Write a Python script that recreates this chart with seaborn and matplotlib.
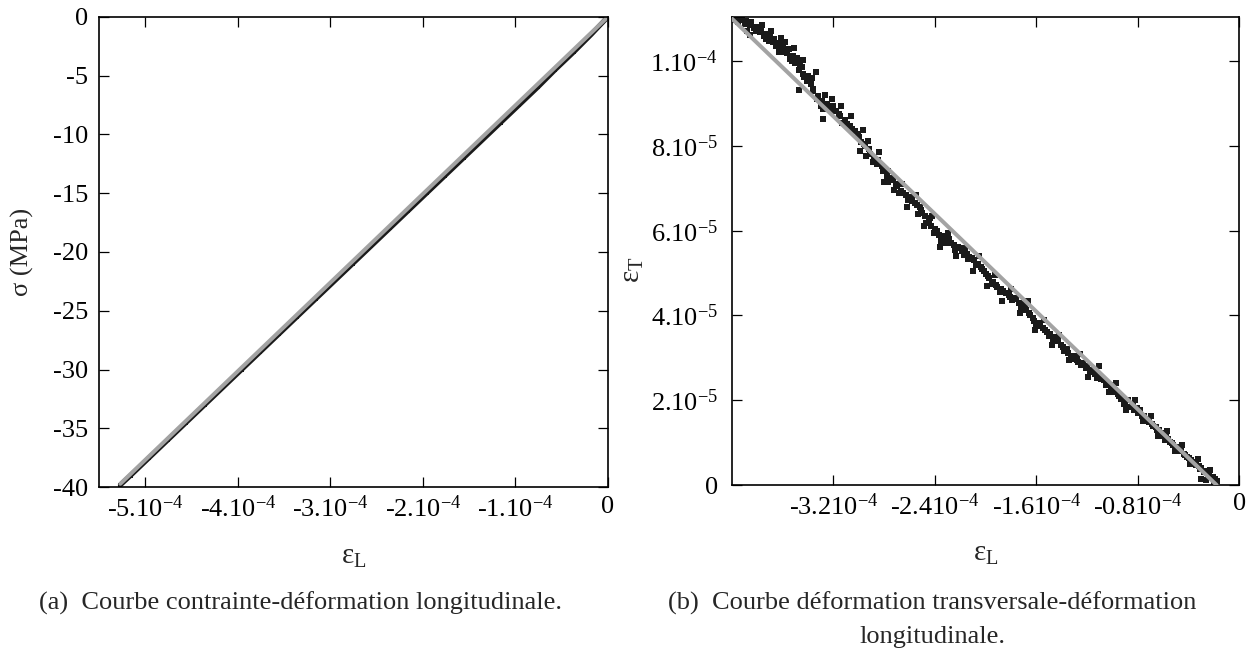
import numpy as np
import pandas as pd
import matplotlib
matplotlib.use("Agg")
import matplotlib.pyplot as plt
from matplotlib import font_manager as fm
import seaborn as sns

# ---------------- data ----------------
# (a) stress - longitudinal strain (eps in 1e-4, sigma in MPa)
sigma_a = [0.0, -1.5, -3.0, -4.5, -6.0, -7.5, -9.0, -10.5, -12.0, -13.5, -15.0,
           -16.5, -18.0, -19.5, -21.0, -22.5, -24.0, -25.5, -27.0, -28.5, -30.0,
           -31.5, -33.0, -34.5, -36.0, -37.5, -39.0, -39.8]
epsL_a = [0.0, -0.18, -0.37, -0.57, -0.76, -0.96, -1.16, -1.36, -1.56, -1.76, -1.96,
          -2.16, -2.36, -2.56, -2.76, -2.96, -3.16, -3.36, -3.56, -3.76, -3.96,
          -4.16, -4.36, -4.56, -4.76, -4.96, -5.16, -5.27]
fit_epsL_a = [-5.27, 0.0]
fit_sigma_a = [-39.7, 0.0]

# (b) transverse strain (1e-5) vs longitudinal strain (1e-4)
epsL_b = [-3.97, -3.95, -3.92, -3.90, -3.86, -3.83, -3.80, -3.78, -3.75, -3.73,
          -3.70, -3.68, -3.65, -3.62, -3.60, -3.57, -3.54, -3.52, -3.50, -3.47,
          -3.45, -3.43, -3.41, -3.47, -3.38, -3.33, -3.30, -3.28, -3.25, -3.22,
          -3.18, -3.28, -3.15, -3.11, -3.09, -3.05, -3.01, -2.98, -2.96, -2.93,
          -2.99, -2.91, -2.88, -2.86, -2.82, -2.79, -2.77, -2.77, -2.73, -2.70,
          -2.67, -2.63, -2.60, -2.58, -2.54, -2.51, -2.48, -2.45, -2.43, -2.40,
          -2.38, -2.35, -2.33, -2.29, -2.25, -2.22, -2.19, -2.15, -2.13, -2.09,
          -2.06, -2.03, -2.00, -1.97, -1.94, -1.91, -1.88, -1.84, -1.81, -1.77,
          -1.74, -1.71, -1.68, -1.65, -1.62, -1.59, -1.55, -1.52, -1.49, -1.46,
          -1.43, -1.39, -1.36, -1.33, -1.30, -1.27, -1.23, -1.20, -1.17, -1.14,
          -1.10, -1.07, -1.04, -1.01, -0.98, -0.95, -0.91, -0.88, -0.84, -0.81,
          -0.78, -0.75, -0.72, -0.69, -0.66, -0.63, -0.61, -0.59, -0.55, -0.52,
          -0.50, -0.47, -0.44, -0.41, -0.38, -0.35, -0.32, -0.30, -0.27, -0.24,
          -0.21, -0.19, -0.18, -0.30, -3.88, -3.63, -3.36, -2.52]
epsT_b = [11.00, 10.93, 10.96, 10.88, 10.85, 10.78, 10.80, 10.68, 10.60, 10.53,
          10.58, 10.45, 10.35, 10.30, 10.36, 10.20, 10.05, 10.12, 9.95, 9.78,
          9.85, 9.62, 9.53, 9.31, 9.45, 9.10, 8.95, 8.88, 8.98, 8.85,
          8.82, 8.63, 8.70, 8.60, 8.51, 8.40, 8.28, 8.10, 8.04, 8.12,
          7.88, 7.80, 7.70, 7.57, 7.52, 7.45, 7.41, 7.14, 7.25, 7.05,
          6.94, 6.85, 6.80, 6.71, 6.60, 6.48, 6.35, 6.24, 6.12, 6.05,
          6.00, 5.76, 5.88, 5.80, 5.66, 5.61, 5.52, 5.45, 5.37, 5.30,
          5.22, 5.10, 4.98, 4.88, 4.80, 4.67, 4.62, 4.52, 4.43, 4.38,
          4.30, 4.28, 4.12, 4.02, 3.88, 3.82, 3.70, 3.61, 3.56, 3.49,
          3.40, 3.25, 3.20, 3.02, 3.05, 2.90, 2.88, 2.80, 2.71, 2.62,
          2.55, 2.47, 2.40, 2.30, 2.24, 2.10, 1.92, 2.00, 1.88, 1.82,
          1.76, 1.62, 1.55, 1.45, 1.37, 1.30, 1.15, 1.06, 1.02, 0.95,
          0.90, 0.82, 0.74, 0.67, 0.60, 0.52, 0.45, 0.40, 0.33, 0.26,
          0.20, 0.14, 0.10, 0.15, 10.72, 10.22, 9.35, 6.55]
epsL_b2 = [-3.99, -3.93, -3.89, -3.85, -3.81, -3.77, -3.74, -3.71, -3.67, -3.63,
           -3.59, -3.55, -3.53, -3.49, -3.46, -3.44, -3.40, -3.36, -3.32, -3.29,
           -3.24, -3.20, -3.16, -3.13, -3.07, -3.03, -3.00, -2.95, -2.92, -2.89,
           -2.85, -2.81, -2.78, -2.75, -2.71, -2.68, -2.65, -2.61, -2.56, -2.53,
           -2.50, -2.47, -2.44, -2.41, -2.37, -2.34, -2.31, -2.27, -2.24, -2.20,
           -2.17, -2.14, -2.11, -2.08, -2.04, -2.01, -1.98, -1.95, -1.92, -1.89,
           -1.86, -1.82, -1.79, -1.76, -1.72, -1.69, -1.66, -1.63, -1.60, -1.57,
           -1.53, -1.50, -1.47, -1.44, -1.41, -1.38, -1.35, -1.31, -1.28, -1.25,
           -1.21, -1.18, -1.15, -1.12, -1.09, -1.05, -1.02, -0.99, -0.96, -0.93,
           -0.90, -0.86, -0.83, -0.80, -0.77, -0.74, -0.71, -0.68, -0.65, -0.62,
           -0.58, -0.56, -0.53, -0.49, -0.46, -0.43, -0.40, -0.37, -0.34, -0.31,
           -0.28, -0.25, -0.22, -0.20]
epsT_b2 = [10.98, 11.02, 10.95, 10.92, 10.72, 10.75, 10.65, 10.48, 10.52, 10.42,
           10.22, 10.28, 10.00, 10.08, 9.92, 9.70, 9.66, 9.30, 9.18, 9.05,
           8.90, 8.95, 8.76, 8.55, 8.46, 8.35, 8.20, 8.00, 7.92, 7.62,
           7.66, 7.40, 7.30, 7.20, 7.10, 6.88, 6.90, 6.72, 6.65, 6.40,
           6.42, 6.18, 6.30, 5.95, 5.90, 5.82, 5.72, 5.70, 5.55, 5.58,
           5.42, 5.32, 5.35, 5.18, 5.15, 5.05, 4.92, 4.75, 4.72, 4.55,
           4.58, 4.48, 4.36, 4.40, 4.18, 4.20, 4.05, 3.95, 3.78, 3.75,
           3.66, 3.52, 3.42, 3.45, 3.30, 3.15, 3.12, 2.98, 2.95, 2.82,
           2.76, 2.66, 2.70, 2.52, 2.50, 2.36, 2.35, 2.20, 2.15, 2.02,
           1.95, 1.84, 1.78, 1.70, 1.64, 1.55, 1.48, 1.40, 1.30, 1.22,
           1.14, 1.08, 0.98, 0.88, 0.80, 0.70, 0.64, 0.55, 0.48, 0.38,
           0.30, 0.22, 0.18, 0.08]
epsL_b3 = [-3.86, -3.76, -3.69, -3.61, -3.58, -3.51, -3.44, -3.37, -3.34, -3.27,
           -3.21, -3.14, -3.06, -2.97, -2.94, -2.84, -2.80, -2.72, -2.66, -2.62,
           -2.55, -2.49, -2.42, -2.36, -2.30, -2.23, -2.16, -2.10, -2.05, -1.99,
           -1.93, -1.87, -1.80, -1.73, -1.67, -1.61, -1.54, -1.48, -1.42, -1.34,
           -1.26, -1.19, -1.11, -1.03, -0.97, -0.89, -0.82, -0.76, -0.70, -0.64,
           -0.57, -0.51, -0.45, -0.39, -0.33, -0.26, -0.23]
epsT_b3 = [10.62, 10.85, 10.72, 10.55, 10.45, 10.30, 10.02, 9.60, 9.75, 9.20,
           9.10, 8.95, 8.70, 8.38, 7.75, 7.85, 7.15, 6.95, 7.10, 6.55,
           6.85, 6.10, 6.35, 5.62, 5.95, 5.40, 5.60, 5.05, 5.40, 4.70,
           4.95, 4.35, 4.62, 4.05, 4.35, 3.65, 3.90, 3.30, 3.55, 2.95,
           3.10, 2.55, 2.80, 2.20, 2.40, 1.78, 2.00, 1.50, 1.62, 1.15,
           1.28, 0.80, 0.95, 0.50, 0.62, 0.12, 0.35]
fit_epsL_b = [-4.0, -0.18]
fit_epsT_b = [11.0, 0.0]

xticks_a = [-5, -4, -3, -2, -1, 0]
xticklabels_a = ['-5.10$^{-4}$', '-4.10$^{-4}$', '-3.10$^{-4}$', '-2.10$^{-4}$', '-1.10$^{-4}$', '0']
yticks_a = [0, -5, -10, -15, -20, -25, -30, -35, -40]
yticklabels_a = ['0', '-5', '-10', '-15', '-20', '-25', '-30', '-35', '-40']

xticks_b = [-3.2, -2.4, -1.6, -0.8, 0]
xticklabels_b = ['-3.210$^{-4}$', '-2.410$^{-4}$', '-1.610$^{-4}$', '-0.810$^{-4}$', '0']
yticks_b = [0, 2, 4, 6, 8, 10]
yticklabels_b = ['0', '2.10$^{-5}$', '4.10$^{-5}$', '6.10$^{-5}$', '8.10$^{-5}$', '1.10$^{-4}$']

caption_a = "(a)  Courbe contrainte-déformation longitudinale."
caption_b1 = "(b)  Courbe déformation transversale-déformation"
caption_b2 = "longitudinale."

# ---------------- fonts ----------------
serif_name = None
for f in fm.findSystemFonts():
    base = f.replace(' ', '').lower()
    if 'liberationserif' in base:
        try:
            fm.fontManager.addfont(f)
            if base.endswith('liberationserif-regular.ttf'):
                serif_name = fm.FontProperties(fname=f).get_name()
        except Exception:
            pass
if serif_name is None:
    serif_name = 'Liberation Serif'

# ---------------- style ----------------
sns.set_theme(style="ticks")
plt.rcParams['font.family'] = [serif_name, 'DejaVu Serif']
plt.rcParams['mathtext.fontset'] = 'custom'
plt.rcParams['mathtext.rm'] = serif_name
plt.rcParams['mathtext.it'] = serif_name + ':italic'
plt.rcParams['mathtext.default'] = 'regular'
plt.rcParams['axes.unicode_minus'] = False

FS = 19
GRAY = '#a3a3a3'
BLACK = '#1a1a1a'

fig = plt.figure(figsize=(12.57, 6.52), dpi=100)
axA = fig.add_axes([0.0788, 0.2526, 0.4049, 0.7218])
axB = fig.add_axes([0.5823, 0.2561, 0.4037, 0.7178])

E4 = 1e-4
E5 = 1e-5

dfa = pd.DataFrame({'eps': np.array(epsL_a) * E4, 'sig': sigma_a})
fita = pd.DataFrame({'eps': np.array(fit_epsL_a) * E4, 'sig': fit_sigma_a})
sns.lineplot(data=dfa, x='eps', y='sig', ax=axA, color=BLACK, lw=3.6, sort=False,
             estimator=None, marker='s', markersize=3.5, markeredgewidth=0)
sns.lineplot(data=fita, x='eps', y='sig', ax=axA, color=GRAY, lw=2.9, sort=False,
             estimator=None)

dfb = pd.DataFrame({'epsL': np.concatenate([epsL_b, epsL_b2, epsL_b3]) * E4,
                    'epsT': np.concatenate([epsT_b, epsT_b2, epsT_b3]) * E5})
fitb = pd.DataFrame({'epsL': np.array(fit_epsL_b) * E4, 'epsT': np.array(fit_epsT_b) * E5})
sns.scatterplot(data=dfb, x='epsL', y='epsT', ax=axB, color=BLACK, marker='s', s=15,
                linewidth=0, zorder=2)
sns.lineplot(data=fitb, x='epsL', y='epsT', ax=axB, color=GRAY, lw=2.9, sort=False,
             estimator=None, zorder=3)

# axes A
axA.set_xlim(-5.5e-4, 0)
axA.set_ylim(-40, 0)
axA.set_xticks(np.array(xticks_a) * E4)
axA.set_xticklabels(xticklabels_a)
axA.set_yticks(yticks_a)
axA.set_yticklabels(yticklabels_a)
axA.set_xlabel('ε$_\\mathrm{L}$', fontsize=FS + 2)
axA.set_ylabel('σ (MPa)', fontsize=FS)
axA.yaxis.set_label_coords(-0.128, 0.5)
axA.xaxis.set_label_coords(0.5, -0.12)

# axes B
axB.set_xlim(-4.0e-4, 0)
axB.set_ylim(0, 11.04e-5)
axB.set_xticks(np.array(xticks_b) * E4)
axB.set_xticklabels(xticklabels_b)
axB.set_yticks(np.array(yticks_b) * E5)
axB.set_yticklabels(yticklabels_b)
axB.set_xlabel('ε$_\\mathrm{L}$', fontsize=FS + 2)
axB.set_ylabel('ε$_\\mathrm{T}$', fontsize=FS + 2)
axB.yaxis.set_label_coords(-0.17, 0.46)
axB.xaxis.set_label_coords(0.5, -0.12)

for ax, ypad in ((axA, 8), (axB, 10)):
    for s in ax.spines.values():
        s.set_visible(True)
        s.set_linewidth(1.2)
        s.set_color('black')
    ax.tick_params(axis='both', which='both', direction='in', top=True, right=True,
                   length=7, width=0.9, colors='black', labelsize=FS)
    ax.tick_params(axis='x', pad=6)
    ax.tick_params(axis='y', pad=ypad)
    ax.grid(False)
    ax.set_facecolor('white')

fig.text(0.239, 0.075, caption_a, ha='center', va='center', fontsize=FS)
fig.text(0.7415, 0.075, caption_b1, ha='center', va='center', fontsize=FS)
fig.text(0.7415, 0.023, caption_b2, ha='center', va='center', fontsize=FS)

fig.savefig('out.png', dpi=100, facecolor='white')
